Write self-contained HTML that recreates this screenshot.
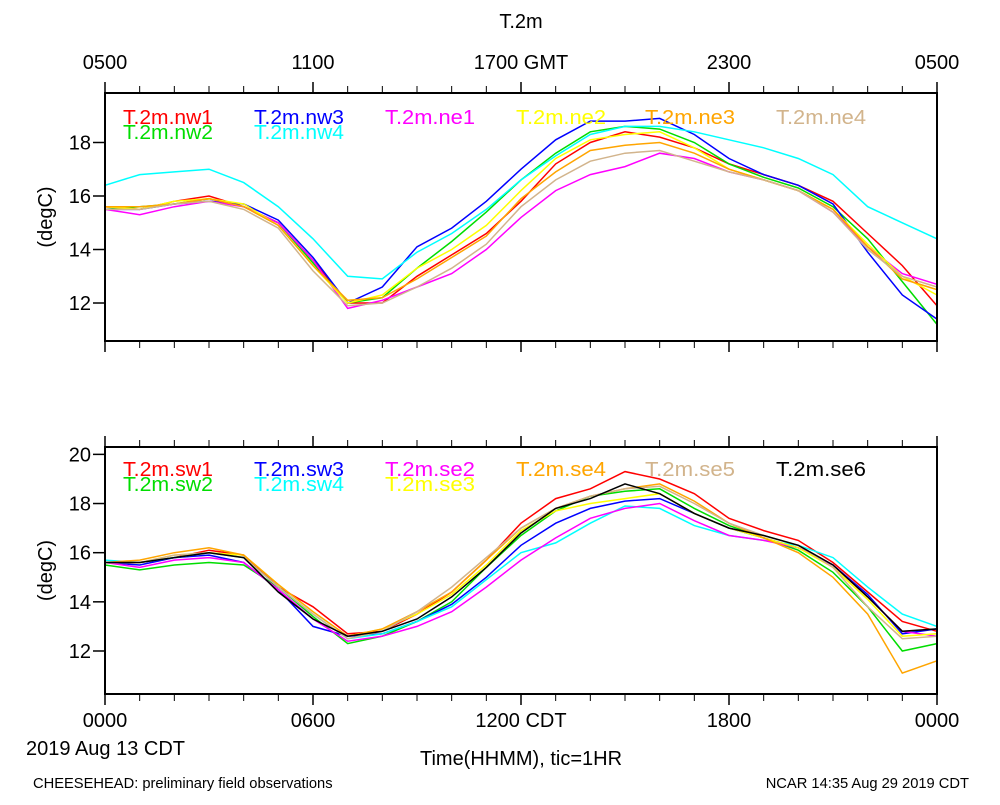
<!DOCTYPE html>
<html><head><meta charset="utf-8"><style>
body{margin:0;background:#fff;}
svg text{font-family:"Liberation Sans",sans-serif;}
</style></head><body>
<svg id="c" width="1000" height="800" xmlns="http://www.w3.org/2000/svg"></svg>
<script>
const hours=[0,1,2,3,4,5,6,7,8,9,10,11,12,13,14,15,16,17,18,19,20,21,22,23,24];
const topTickLabels=["0500","1100","1700 GMT","2300","0500"];
const botTickLabels=["0000","0600","1200 CDT","1800","0000"];
const topYTicks=[12,14,16,18];
const botYTicks=[12,14,16,18,20];
const topNames=["T.2m.nw1","T.2m.nw2","T.2m.nw3","T.2m.nw4","T.2m.ne1","T.2m.ne2","T.2m.ne3","T.2m.ne4"];
const topColors=["#ff0000","#00dd00","#0000ff","#00ffff","#ff00ff","#ffff00","#ffa500","#d2b48c"];
const nw1=[15.6,15.5,15.8,16.0,15.6,15.0,13.6,12.0,12.0,13.0,13.8,14.6,15.8,17.2,18.0,18.4,18.2,17.8,17.2,16.8,16.4,15.8,14.6,13.4,11.9];
const nw2=[15.5,15.6,15.7,15.9,15.6,15.0,13.5,12.0,12.2,13.3,14.3,15.4,16.6,17.6,18.4,18.6,18.5,18.0,17.2,16.7,16.3,15.6,14.4,12.8,11.2];
const nw3=[15.5,15.5,15.7,15.8,15.7,15.1,13.7,12.0,12.6,14.1,14.8,15.8,17.0,18.1,18.8,18.8,18.9,18.3,17.4,16.8,16.4,15.7,13.9,12.3,11.4];
const nw4=[16.4,16.8,16.9,17.0,16.5,15.6,14.4,13.0,12.9,13.9,14.6,15.5,16.6,17.5,18.3,18.6,18.6,18.4,18.1,17.8,17.4,16.8,15.6,15.0,14.4];
const ne1=[15.5,15.3,15.6,15.8,15.6,15.0,13.6,11.8,12.1,12.6,13.1,14.0,15.2,16.2,16.8,17.1,17.6,17.4,16.9,16.6,16.2,15.4,14.1,13.1,12.7];
const ne2=[15.6,15.5,15.8,15.9,15.7,14.9,13.4,12.0,12.3,13.3,14.0,14.9,16.2,17.4,18.1,18.3,18.4,17.8,17.0,16.6,16.2,15.5,14.2,13.0,12.3];
const ne3=[15.6,15.6,15.7,15.9,15.6,14.9,13.4,12.1,12.2,12.9,13.7,14.5,15.9,16.9,17.7,17.9,18.0,17.6,17.0,16.6,16.2,15.5,14.1,12.9,12.5];
const ne4=[15.5,15.5,15.7,15.8,15.5,14.8,13.2,11.9,12.0,12.6,13.3,14.2,15.6,16.6,17.3,17.6,17.7,17.3,16.9,16.6,16.2,15.4,14.0,13.0,12.6];
const topSeries=[nw1,nw2,nw3,nw4,ne1,ne2,ne3,ne4];
const botNames=["T.2m.sw1","T.2m.sw2","T.2m.sw3","T.2m.sw4","T.2m.se2","T.2m.se3","T.2m.se4","T.2m.se5","T.2m.se6"];
const botColors=["#ff0000","#00dd00","#0000ff","#00ffff","#ff00ff","#ffff00","#ffa500","#d2b48c","#000000"];
const sw1=[15.6,15.6,15.8,16.1,15.9,14.6,13.8,12.7,12.8,13.5,14.4,15.7,17.2,18.2,18.6,19.3,19.0,18.4,17.4,16.9,16.5,15.6,14.4,13.2,12.8];
const sw2=[15.5,15.3,15.5,15.6,15.5,14.6,13.4,12.3,12.6,13.2,14.0,15.4,16.7,17.7,18.3,18.5,18.6,17.8,17.1,16.6,16.1,15.2,13.8,12.0,12.3];
const sw3=[15.6,15.5,15.8,15.9,15.6,14.5,13.0,12.6,12.7,13.2,13.9,15.0,16.3,17.2,17.8,18.1,18.2,17.6,17.0,16.6,16.2,15.5,14.3,12.7,12.9];
const sw4=[15.7,15.6,15.8,16.0,15.8,14.6,13.5,12.5,12.7,13.2,13.8,14.9,16.0,16.4,17.2,17.9,17.8,17.1,16.7,16.5,16.3,15.8,14.6,13.5,13.0];
const se2=[15.6,15.4,15.7,15.8,15.6,14.5,13.3,12.4,12.6,13.0,13.6,14.6,15.7,16.6,17.4,17.8,18.0,17.3,16.7,16.5,16.2,15.5,14.2,12.8,12.6];
const se3=[15.6,15.6,15.9,16.0,15.9,14.7,13.6,12.6,12.9,13.5,14.3,15.5,16.9,17.7,18.0,18.2,18.4,17.6,17.0,16.6,16.2,15.4,14.1,12.6,12.7];
const se4=[15.6,15.7,16.0,16.2,15.9,14.7,13.6,12.6,12.9,13.6,14.4,15.7,17.0,17.8,18.3,18.6,18.8,18.1,17.2,16.6,16.0,15.0,13.5,11.1,11.6];
const se5=[15.6,15.6,15.9,16.0,15.8,14.6,13.5,12.5,12.8,13.6,14.6,15.8,17.0,17.8,18.3,18.6,18.7,18.0,17.2,16.7,16.3,15.4,13.8,12.5,12.6];
const se6=[15.6,15.6,15.8,16.0,15.8,14.4,13.3,12.6,12.8,13.3,14.2,15.4,16.8,17.8,18.2,18.8,18.4,17.6,17.0,16.7,16.3,15.5,14.2,12.8,12.9];
const botSeries=[sw1,sw2,sw3,sw4,se2,se3,se4,se5,se6];

const NS="http://www.w3.org/2000/svg";
const svg=document.getElementById('c');
function el(tag,attrs,parent){const e=document.createElementNS(NS,tag);for(const k in attrs)e.setAttribute(k,attrs[k]);(parent||svg).appendChild(e);return e;}
const X0=105,X1=937;
function xs(h){return X0+(X1-X0)*h/24;}

function panel(name,top,bot,ymin,ymax,yticks,series,names,colors,tickLabels,labelsAbove,legendY){
  const g=el('g',{});
  
  
  const ys=v=>bot-(v-ymin)/(ymax-ymin)*(bot-top);
  series.forEach((s,i)=>{
    const d=s.map((v,j)=>(j?'L':'M')+xs(hours[j]).toFixed(1)+' '+ys(v).toFixed(1)).join(' ');
    const p=el('path',{d:d,fill:'none',stroke:colors[i],'stroke-width':1.5},g);
    
    
  });
  const r=el('rect',{x:X0,y:top,width:X1-X0,height:bot-top,fill:'none',stroke:'#000','stroke-width':2},g);
  
  
  for(let h=0;h<=24;h++){
    const x=xs(h),maj=h%6===0;
    el('line',{x1:x,x2:x,y1:top,y2:top-(maj?11:7),stroke:'#000','stroke-width':maj?1.5:1},g);
    el('line',{x1:x,x2:x,y1:bot,y2:bot+(maj?11:7),stroke:'#000','stroke-width':maj?1.5:1},g);
  }
  yticks.forEach(v=>{
    el('line',{x1:X0-12,x2:X0,y1:ys(v),y2:ys(v),stroke:'#000','stroke-width':1.5},g);
    const t=el('text',{x:X0-14,y:ys(v)+7,'font-size':20,'text-anchor':'end'},g);
    t.textContent=v;
    
    
  });
  tickLabels.forEach((l,i)=>{
    const t=el('text',{x:xs(i*6),y:labelsAbove?(top-24):(bot+33),'font-size':20,'text-anchor':'middle'},g);
    t.textContent=l;
    
    
  });
  const yt=el('text',{x:0,y:0,'font-size':20,'text-anchor':'middle',transform:`translate(52,${(top+bot)/2}) rotate(-90)`},g);
  yt.textContent='(degC)';
  
  
  const cols=[123,254,385,516,645,776];
  names.forEach((n,i)=>{
    let col,row;
    if(series.length===8){const m=[[0,0],[0,1],[1,0],[1,1],[2,0],[3,0],[4,0],[5,0]];[col,row]=m[i];}
    else{const m=[[0,0],[0,1],[1,0],[1,1],[2,0],[2,1],[3,0],[4,0],[5,0]];[col,row]=m[i];}
    const t=el('text',{x:cols[col],y:legendY+row*15,'font-size':20,fill:colors[i],textLength:90,lengthAdjust:'spacingAndGlyphs'},g);
    t.textContent=n;
    
    
  });
}
panel('top-panel',93,341,10.58,19.85,topYTicks,topSeries,topNames,topColors,topTickLabels,true,124);
panel('bottom-panel',447,694,10.25,20.3,botYTicks,botSeries,botNames,botColors,botTickLabels,false,476);

function txt(s,x,y,size,anchor,name){const t=el('text',{x:x,y:y,'font-size':size,'text-anchor':anchor});t.textContent=s;}
txt('T.2m',521,28,20,'middle','chart-title');
txt('2019 Aug 13 CDT',26,755,20,'start','date-label');
txt('Time(HHMM), tic=1HR',521,765,20,'middle','x-axis-title');
txt('CHEESEHEAD: preliminary field observations',33,788,14.7,'start','footer-left');
txt('NCAR 14:35 Aug 29 2019 CDT',969,788,14.7,'end','footer-right');
</script>
</body></html>
